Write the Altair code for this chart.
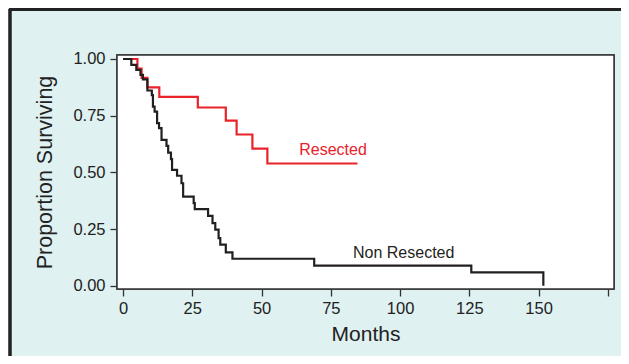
import altair as alt
import pandas as pd

# Resected (Kaplan-Meier steps): month, survival after the step
res_months = [0, 5.2, 6.7, 8.8, 13.1, 27.0, 37.1, 41.0, 46.7, 52.1, 84.6]
res_surv = [1.0, 0.958, 0.917, 0.875, 0.833, 0.786, 0.728, 0.667, 0.605, 0.539, 0.539]

# Non resected
non_months = [0, 3.0, 4.8, 6.3, 7.2, 8.8, 10.4, 10.8, 11.4, 12.3, 13.0, 13.9, 15.7,
              16.3, 17.3, 17.7, 19.5, 21.1, 21.7, 25.5, 25.9, 30.7, 32.3, 33.3,
              34.5, 35.1, 37.1, 39.5, 69.0, 125.7, 151.7, 151.7]
non_surv = [1.0, 0.974, 0.952, 0.930, 0.910, 0.861, 0.841, 0.790, 0.768, 0.717,
            0.695, 0.643, 0.617, 0.587, 0.558, 0.511, 0.485, 0.452, 0.393, 0.364,
            0.338, 0.308, 0.276, 0.247, 0.210, 0.181, 0.147, 0.119, 0.089, 0.059,
            0.059, 0.0]

label_text = ["Resected", "Non Resected"]
label_month = [75.8, 101.3]
label_surv = [0.60, 0.145]
label_group = ["Resected", "Non Resected"]

x_ticks = [0, 25, 50, 75, 100, 125, 150, 175]
y_ticks = [0, 0.25, 0.5, 0.75, 1.0]

df = pd.concat([
    pd.DataFrame({"Months": res_months, "Surv": res_surv, "Group": "Resected",
                  "order": range(len(res_months))}),
    pd.DataFrame({"Months": non_months, "Surv": non_surv, "Group": "Non Resected",
                  "order": range(len(non_months))}),
])
labels = pd.DataFrame({"Months": label_month, "Surv": label_surv,
                       "Text": label_text, "Group": label_group})

FONT = "Liberation Sans"
color_scale = alt.Scale(domain=["Resected", "Non Resected"], range=["#e8232a", "#231f20"])

x_enc = alt.X("Months:Q", scale=alt.Scale(domain=[-2.17, 177.2], nice=False, zero=False),
              axis=alt.Axis(values=x_ticks, title="Months", grid=False, domain=False,
                            tickSize=7, tickWidth=1.3, tickColor="#333",
                            labelFontSize=16.5, labelColor="#222", labelPadding=4,
                            labelExpr="datum.value > 160 ? '' : datum.label",
                            titleFontSize=21, titleFontWeight="normal", titleColor="#222",
                            titlePadding=7))
y_enc = alt.Y("Surv:Q", scale=alt.Scale(domain=[-0.0145, 1.0176], nice=False, zero=False),
              axis=alt.Axis(values=y_ticks, format=".2f", title="Proportion Surviving",
                            grid=False, domain=False, tickSize=7, tickWidth=1.3,
                            tickColor="#333", labelFontSize=16.5, labelColor="#222",
                            labelPadding=5, titleFontSize=21.5, titleFontWeight="normal",
                            titleColor="#222", titlePadding=16))

lines = alt.Chart(df).mark_line(interpolate="step-after", strokeWidth=2.2).encode(
    x=x_enc, y=y_enc,
    color=alt.Color("Group:N", scale=color_scale, legend=None),
    detail="Group:N", order="order:Q")

texts = alt.Chart(labels).mark_text(fontSize=16, font=FONT).encode(
    x="Months:Q", y="Surv:Q", text="Text:N",
    color=alt.Color("Group:N", scale=color_scale, legend=None))

box = alt.Chart(labels).mark_rect(fill="white", stroke="#333", strokeWidth=1.5).encode(
    x=alt.value(0), x2=alt.value(497), y=alt.value(0), y2=alt.value(234))

frame_left = alt.Chart(labels).mark_rule(color="#222", strokeWidth=3).encode(
    x=alt.value(-107), y=alt.value(-46), y2=alt.value(310))
frame_top = alt.Chart(labels).mark_rule(color="#222", strokeWidth=3).encode(
    x=alt.value(-108), x2=alt.value(510), y=alt.value(-45.5))

chart = alt.layer(frame_left, frame_top, box, lines, texts).properties(
    width=497, height=234,
    padding={"left": 109, "top": 47, "right": 7, "bottom": 67},
    autosize="none",
    background="#dff1f1",
).configure_view(
    strokeWidth=0, fill="white"
).configure(font=FONT)

chart.save("out.html", embed_options={"renderer": "svg", "actions": False})
